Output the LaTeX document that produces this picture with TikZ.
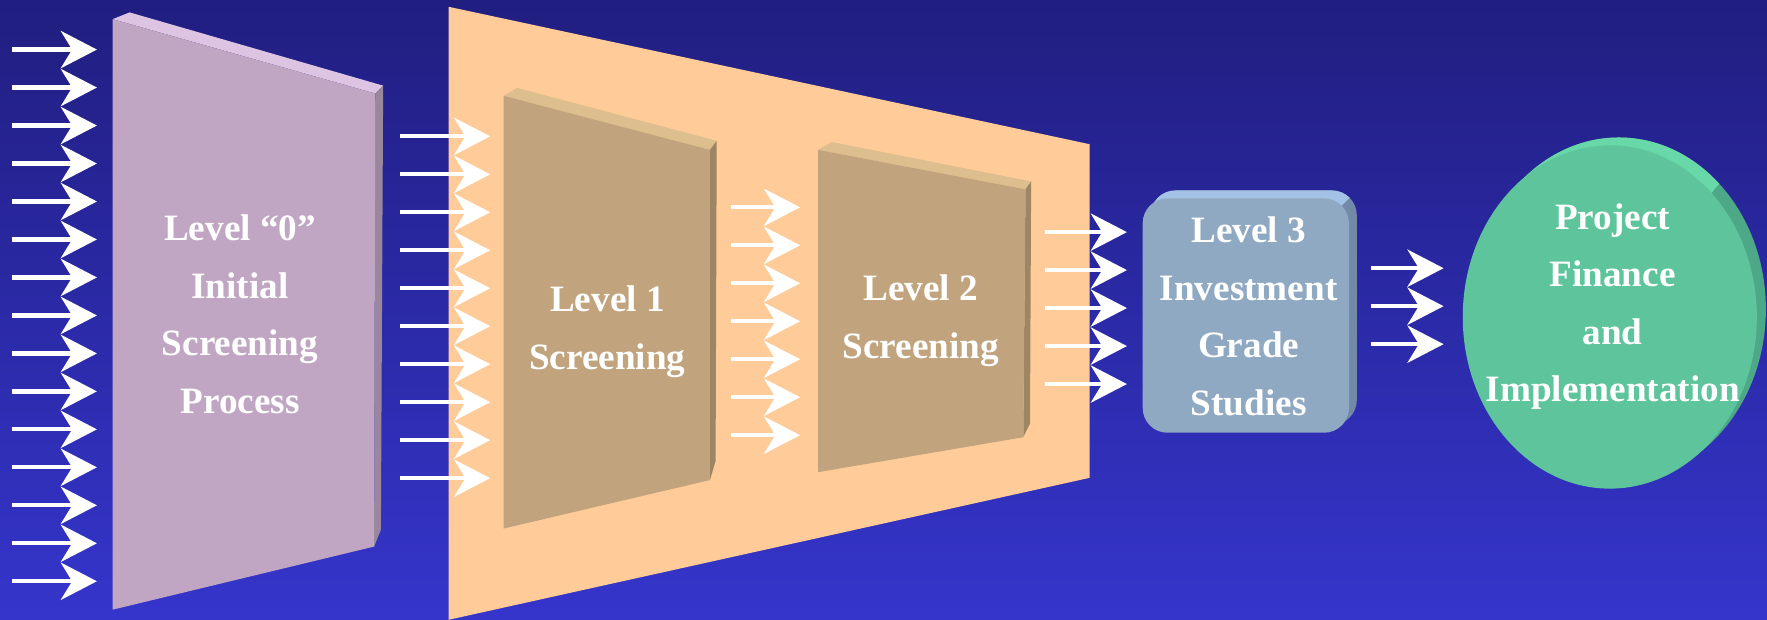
\documentclass[tikz,border=0pt]{standalone}
\usepackage{fontspec}
\setmainfont{Liberation Serif}
\usetikzlibrary{arrows.meta}
\definecolor{bgtop}{HTML}{211E80}
\definecolor{bgbottom}{HTML}{3535CC}
\definecolor{screenlilac}{HTML}{C0A6C3}
\definecolor{screenlilactop}{HTML}{DCC4E2}
\definecolor{screenlilacside}{HTML}{9A879E}
\definecolor{funnelorange}{HTML}{FFCB98}
\definecolor{screentan}{HTML}{C1A47D}
\definecolor{screentantop}{HTML}{DDBE8E}
\definecolor{screentanside}{HTML}{9E8564}
\definecolor{gradeblue}{HTML}{8FA9C2}
\definecolor{gradebluetop}{HTML}{A4C2E6}
\definecolor{gradeblueside}{HTML}{7389A8}
\definecolor{financegreen}{HTML}{5EC49B}
\definecolor{financegreentop}{HTML}{68D8A8}
\definecolor{financegreenside}{HTML}{4CA886}
\tikzset{
        flow_arrow/.style={draw=white, line width=1.9pt, line cap=butt,
                           -{Stealth[length=16pt, width=16.5pt, inset=5pt, fill=white]}},
        stage_text/.style={text=white, align=center, anchor=base,
                           font=\fontsize{16.5}{25.5}\selectfont\bfseries}
    }

\begin{document}
\begin{tikzpicture}[x=0.5pt, y=-0.5pt]
    \useasboundingbox (0,0) rectangle (1568,550);
    \shade[top color=bgtop, bottom color=bgbottom] (0,0) rectangle (1568,550);

    % level 0 plate
    \fill[screenlilactop] (100,17) -- (115,11) -- (340,76) -- (333,83) -- cycle;
    \fill[screenlilacside] (333,83) -- (340,76) -- (338,470) -- (332,485) -- cycle;
    \fill[screenlilac] (100,17) -- (333,83) -- (332,485) -- (100,541) -- cycle;

    % funnel holding levels 1 and 2
    \fill[funnelorange] (398,6) -- (967,128) -- (967,424) -- (398,550) -- cycle;
    \fill[screentantop] (447,85) -- (459,78) -- (636,125) -- (630,133) -- cycle;
    \fill[screentanside] (630,133) -- (636,125) -- (635,409) -- (630,426) -- cycle;
    \fill[screentan] (447,85) -- (630,133) -- (630,426) -- (447,469) -- cycle;
    \fill[screentantop] (726,133) -- (738,126) -- (915,161) -- (910,168) -- cycle;
    \fill[screentanside] (910,168) -- (915,161) -- (914,376) -- (908,388) -- cycle;
    \fill[screentan] (726,133) -- (910,168) -- (908,388) -- (726,419) -- cycle;

    % level 3 block
    \begin{scope}
        \clip[rounded corners=11pt] (1021,169) rectangle (1204,377);
        \fill[gradeblueside] (1000,150) rectangle (1220,400);
        \fill[gradebluetop] (1000,150) -- (1220,150) -- (1204,169) -- (1190,183) -- (1000,183) -- cycle;
    \end{scope}
    \fill[gradeblue, rounded corners=11pt] (1014,176) rectangle (1197,384);

    % finance disc
    \begin{scope}
        \clip (1436.5,274.3) ellipse [x radius=130.5, y radius=152.3];
        \fill[financegreenside] (1280,100) rectangle (1600,450);
        \fill[financegreentop] (1280,90) -- (1590,90) -- (1560,121) -- (1428,282) -- (1280,282) -- cycle;
    \end{scope}
    \fill[financegreen] (1428.5,281.3) ellipse [x radius=130.5, y radius=152.3];

    % flows
    \foreach \k in {0,...,14}
        \draw[flow_arrow] (10.4,{44+33.7*\k}) -- (86,{44+33.7*\k});
    \foreach \k in {0,...,9}
        \draw[flow_arrow] (355,{121+33.7*\k}) -- (435,{121+33.7*\k});
    \foreach \k in {0,...,6}
        \draw[flow_arrow] (649,{184+33.7*\k}) -- (710,{184+33.7*\k});
    \foreach \k in {0,...,4}
        \draw[flow_arrow] (927,{206+33.7*\k}) -- (1000,{206+33.7*\k});
    \foreach \k in {0,...,2}
        \draw[flow_arrow] (1217,{238+33.7*\k}) -- (1281,{238+33.7*\k});

    % labels sit on the baseline of their last line
    \node[stage_text] (lvl0) at (213,366.5) {Level “0”\\Initial\\Screening\\Process};
    \node[stage_text] (lvl1) at (539,327.5) {Level 1\\Screening};
    \node[stage_text] (lvl2) at (817,318) {Level 2\\Screening};
    \node[stage_text] (lvl3) at (1108,368.5) {Level 3\\Investment\\Grade\\Studies};
    \node[stage_text] (finance) at (1431,356.6) {Project\\Finance\\and\\Implementation};
\end{tikzpicture}
\end{document}
